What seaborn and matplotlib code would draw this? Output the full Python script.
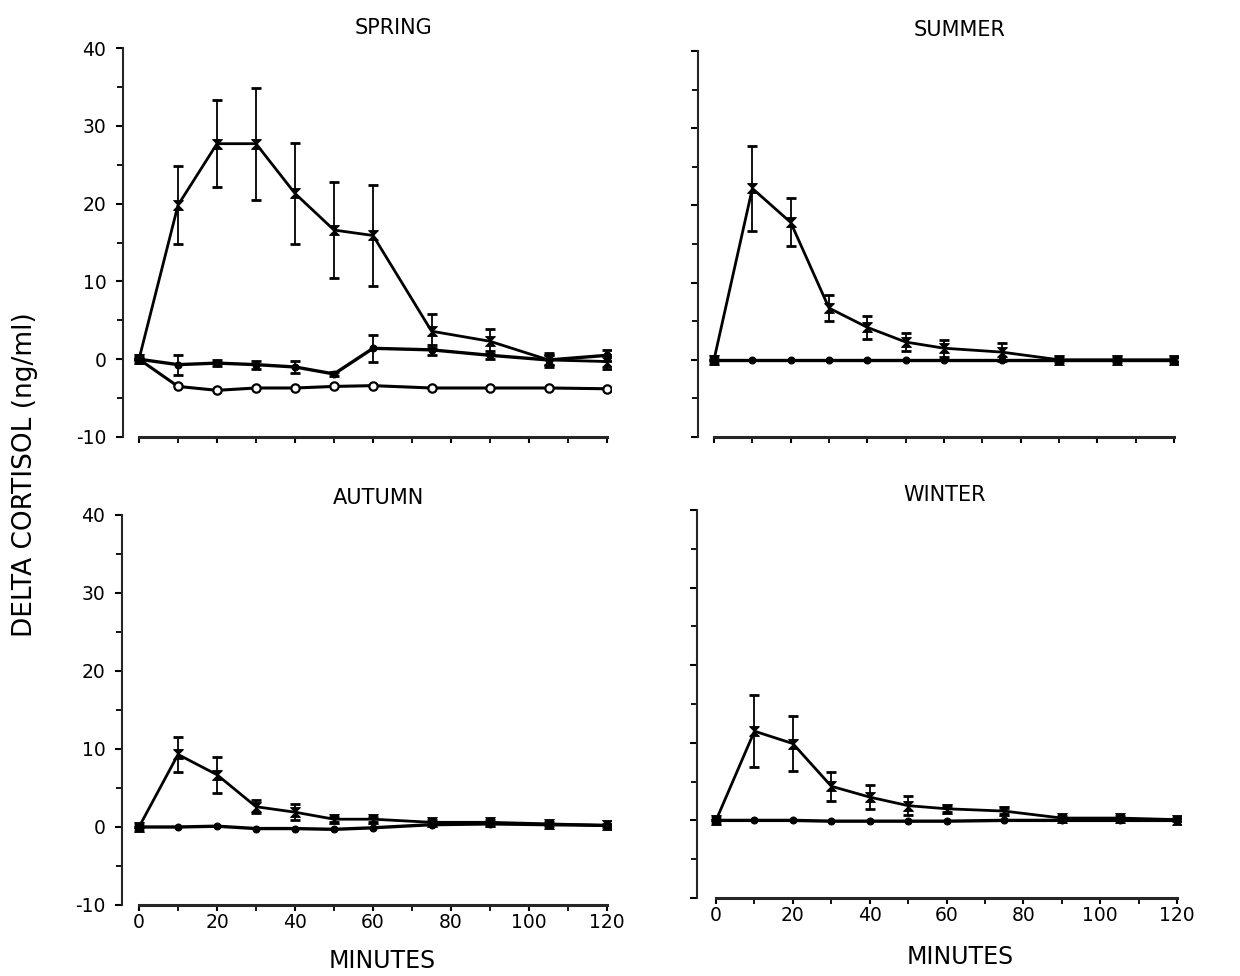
import numpy as np
import pandas as pd
import matplotlib
matplotlib.use("Agg")
import matplotlib.pyplot as plt
from matplotlib.path import Path
from matplotlib.ticker import MultipleLocator
import seaborn as sns

# ---------------- data ----------------
minutes = [0, 10, 20, 30, 40, 50, 60, 75, 90, 105, 120]

spring_acth = [0, 19.8, 27.7, 27.7, 21.3, 16.6, 15.9, 3.6, 2.3, -0.1, -0.3]
spring_acth_se = [0, 5.0, 5.6, 7.2, 6.5, 6.2, 6.5, 2.2, 1.6, 0.9, 0.9]
spring_mid = [0, -0.7, -0.5, -0.7, -1.0, -1.9, 1.4, 1.2, 0.5, -0.1, 0.5]
spring_mid_se = [0, 1.3, 0.4, 0.5, 0.8, 0.3, 1.7, 0.6, 0.5, 0.7, 0.7]
spring_low = [0, -3.5, -4.0, -3.7, -3.7, -3.5, -3.4, -3.7, -3.7, -3.7, -3.8]

summer_acth = [0, 22.2, 17.8, 6.7, 4.2, 2.3, 1.5, 1.0, 0.0, 0.0, 0.0]
summer_acth_se = [0, 5.5, 3.1, 1.7, 1.5, 1.2, 1.1, 1.2, 0.3, 0.3, 0.3]
summer_ctrl = [0, 0, 0, 0, 0, 0, 0, 0, 0, 0, 0]

autumn_acth = [0, 9.3, 6.7, 2.6, 1.9, 1.0, 1.0, 0.6, 0.6, 0.4, 0.2]
autumn_acth_se = [0, 2.3, 2.3, 0.8, 1.0, 0.3, 0.3, 0.3, 0.3, 0.3, 0.2]
autumn_ctrl = [0, 0.0, 0.1, -0.2, -0.2, -0.3, -0.1, 0.3, 0.4, 0.3, 0.2]

winter_acth = [0, 11.5, 9.9, 4.4, 3.0, 1.9, 1.5, 1.2, 0.3, 0.3, 0.1]
winter_acth_se = [0, 4.6, 3.5, 1.9, 1.5, 1.2, 0.4, 0.4, 0.3, 0.3, 0.2]
winter_ctrl = [0, 0.0, 0.0, -0.1, -0.1, -0.1, -0.1, 0.0, 0.0, 0.0, 0.0]

seasons = ["SPRING", "SUMMER", "AUTUMN", "WINTER"]
x_tick_labels = ["0", "20", "40", "60", "80", "100", "120"]
y_tick_labels = ["-10", "0", "10", "20", "30", "40"]

# ---------------- style ----------------
sns.set_theme(style="ticks")
plt.rcParams["font.family"] = ["DejaVu Sans"]
plt.rcParams["axes.linewidth"] = 1.5

W, H = 1240, 976
fig = plt.figure(figsize=(W / 100, H / 100), dpi=100)
fig.patch.set_facecolor("white")

def px_axes(left, right, top, bottom):
    return fig.add_axes([left / W, 1 - bottom / H, (right - left) / W, (bottom - top) / H])

layout = {
    "SPRING": dict(box=(123, 611, 48, 437), xlim=(-4.1, 121.0)),
    "SUMMER": dict(box=(698, 1178, 51, 437), xlim=(-4.17, 121.0)),
    "AUTUMN": dict(box=(122, 611, 515, 905), xlim=(-4.36, 121.0)),
    "WINTER": dict(box=(697, 1181, 510, 898), xlim=(-4.95, 121.0)),
}
title_pos = {"SPRING": (394, 28), "SUMMER": (960, 30), "AUTUMN": (378, 498), "WINTER": (945, 495)}

hourglass = Path([(-1, 1), (1, 1), (-1, -1), (1, -1), (-1, 1)],
                 [Path.MOVETO, Path.LINETO, Path.LINETO, Path.LINETO, Path.CLOSEPOLY])

series = {
    "SPRING": [(spring_acth, spring_acth_se, "hg"), (spring_mid, spring_mid_se, "dot"), (spring_low, None, "open")],
    "SUMMER": [(summer_ctrl, None, "dot"), (summer_acth, summer_acth_se, "hg")],
    "AUTUMN": [(autumn_ctrl, None, "dot"), (autumn_acth, autumn_acth_se, "hg")],
    "WINTER": [(winter_ctrl, None, "dot"), (winter_acth, winter_acth_se, "hg")],
}

for season in seasons:
    lay = layout[season]
    l, r, t, b = lay["box"]
    ax = px_axes(l, r, t, b)
    ax.set_facecolor("white")
    for vals, se, kind in series[season]:
        df = pd.DataFrame({"minutes": minutes, "value": vals})
        if kind == "hg":
            sns.lineplot(data=df, x="minutes", y="value", ax=ax, color="black",
                         lw=2.0, marker=hourglass, markersize=7, mec="black", mfc="black")
        elif kind == "dot":
            sns.lineplot(data=df, x="minutes", y="value", ax=ax, color="black",
                         lw=2.4, marker="o", markersize=5, mec="black", mfc="black")
        else:
            sns.lineplot(data=df, x="minutes", y="value", ax=ax, color="black",
                         lw=2.2, marker="o", markersize=6, mec="black", mfc="white", mew=1.6)
        if se is not None:
            ax.errorbar(minutes, vals, yerr=se, fmt="none", ecolor="black",
                        elinewidth=1.3, capsize=3.5, capthick=2.0)
        ax.scatter(minutes[:1], vals[:1], marker="s", s=40, color="black", zorder=5)

    ax.set_xlim(*lay["xlim"])
    ax.set_ylim(-10, 40)
    sns.despine(ax=ax)
    ax.spines["bottom"].set_bounds(0, 120)
    ax.spines["left"].set_bounds(-10, 40)
    ax.spines["left"].set_linewidth(1.5)
    ax.spines["bottom"].set_linewidth(2.2)

    ax.xaxis.set_major_locator(MultipleLocator(20))
    ax.xaxis.set_minor_locator(MultipleLocator(10))
    ax.yaxis.set_major_locator(MultipleLocator(10))
    ax.yaxis.set_minor_locator(MultipleLocator(5))
    ax.tick_params(axis="both", which="major", direction="out", length=5, width=1.5,
                   color="black", labelsize=13.5, labelcolor="black")
    ax.tick_params(axis="x", which="major", length=4, pad=2)
    ax.tick_params(axis="y", which="major", pad=7)
    ax.tick_params(axis="both", which="minor", direction="out", length=4, width=1.3, color="black")

    if season in ("SPRING", "AUTUMN"):
        ax.set_yticks([-10, 0, 10, 20, 30, 40])
        ax.set_yticklabels(y_tick_labels)
    else:
        ax.set_yticklabels([])
    if season in ("AUTUMN", "WINTER"):
        ax.set_xticks([0, 20, 40, 60, 80, 100, 120])
        ax.set_xticklabels(x_tick_labels)
    else:
        ax.set_xticklabels([])
    ax.set_xlabel("")
    ax.set_ylabel("")

    tx, ty = title_pos[season]
    fig.text(tx / W, 1 - ty / H, season, ha="center", va="center", fontsize=15, color="black")

fig.text(382 / W, 1 - 961 / H, "MINUTES", ha="center", va="center", fontsize=17, color="black")
fig.text(960 / W, 1 - 957 / H, "MINUTES", ha="center", va="center", fontsize=17, color="black")
fig.text(25 / W, 1 - 475 / H, "DELTA CORTISOL (ng/ml)", ha="center", va="center",
         rotation=90, fontsize=19, color="black")

fig.savefig("out.png", dpi=100, facecolor="white")
